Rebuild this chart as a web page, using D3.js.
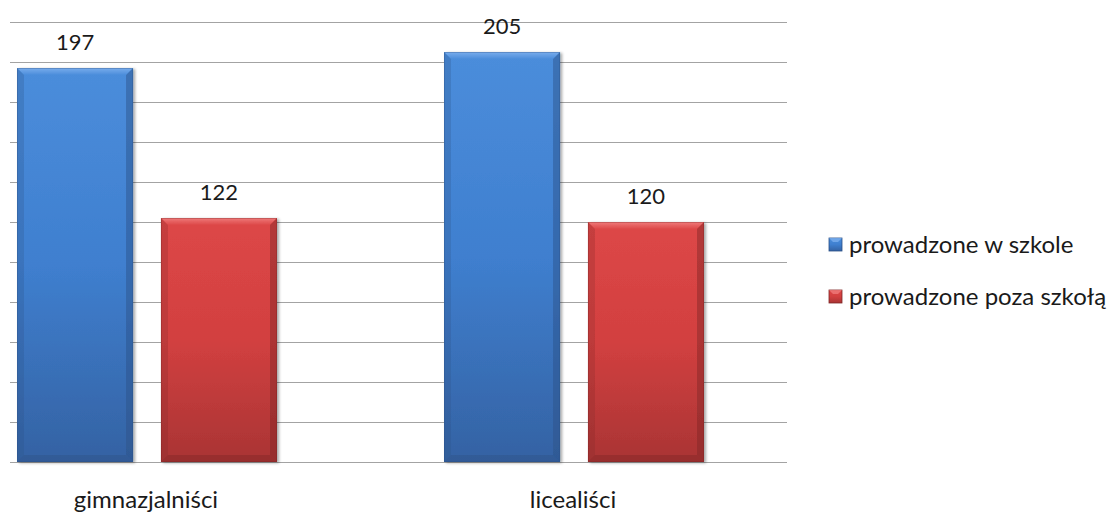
<!DOCTYPE html>
<html><head><meta charset="utf-8">
<script src="https://cdn.jsdelivr.net/npm/d3@7"></script>
<style>body{margin:0;background:#fff}svg{display:block}</style>
</head><body>
<svg id="c" width="1108" height="514"></svg>
<script>
const categories = ["gimnazjalniści", "licealiści"];
const seriesNames = ["prowadzone w szkole", "prowadzone poza szkołą"];
const inSchool = [197, 205];
const outSchool = [122, 120];
const yTicks = [0, 20, 40, 60, 80, 100, 120, 140, 160, 180, 200, 220];

const seriesValues = [inSchool, outSchool];
const colors = [
  {top:"#4b8ddb", mid:"#3f7fcf", bot:"#3462a3", light:"#79adec", dark:"#2a4f85"},
  {top:"#dd4747", mid:"#d24040", bot:"#a93434", light:"#ef7b7b", dark:"#7e2626"}
];
const font = "Lato, 'Open Sans', sans-serif";
const svg = d3.select("#c");
const gridLeft = 10, right = 787, baseY = 462, topY = 22;

const y = d3.scaleLinear().domain([0, 220]).range([baseY, topY]);
const x0 = d3.scaleBand().domain(categories).range([-67.5, 786.5]).paddingInner(0).paddingOuter(0);
const x1 = d3.scaleBand().domain(seriesNames).range([84.5, 344.5]).paddingInner(0.194);

const defs = svg.append("defs");
colors.forEach((c,i)=>{
  const g = defs.append("linearGradient").attr("id","g"+i).attr("x1",0).attr("y1",0).attr("x2",0).attr("y2",1);
  g.append("stop").attr("offset","0%").attr("stop-color",c.top);
  g.append("stop").attr("offset","50%").attr("stop-color",c.mid);
  g.append("stop").attr("offset","100%").attr("stop-color",c.bot);
  const t = defs.append("linearGradient").attr("id","t"+i).attr("x1",0).attr("y1",0).attr("x2",0).attr("y2",1);
  t.append("stop").attr("offset","0%").attr("stop-color",c.light);
  t.append("stop").attr("offset","100%").attr("stop-color",c.top);
});
const f = defs.append("filter").attr("id","sh").attr("x","-10%").attr("y","-10%").attr("width","130%").attr("height","130%");
f.append("feGaussianBlur").attr("in","SourceAlpha").attr("stdDeviation",1.5);
f.append("feOffset").attr("dx",2).attr("dy",1).attr("result","b");
f.append("feComponentTransfer").append("feFuncA").attr("type","linear").attr("slope",0.35);
const fm = f.append("feMerge"); fm.append("feMergeNode"); fm.append("feMergeNode").attr("in","SourceGraphic");

// gridlines
const yAxis = d3.axisLeft(y).tickValues(yTicks).tickSize(-(right-gridLeft)).tickFormat("");
const ga = svg.append("g").attr("transform",`translate(${gridLeft},0)`).call(yAxis);
ga.select(".domain").remove();
ga.selectAll("line").attr("stroke","#a3a3a3").attr("stroke-width",1.3).attr("shape-rendering","crispEdges");

// bars
const groups = svg.append("g").selectAll("g").data(categories).join("g")
  .attr("transform", d => `translate(${x0(d)},0)`);
groups.each(function(cat, ci){
  const g = d3.select(this);
  seriesNames.forEach((s, si)=>{
    const v = seriesValues[si][ci];
    const bx = x1(s), bw = x1.bandwidth(), by = y(v), bh = baseY - by;
    const c = colors[si];
    const b = g.append("g").attr("filter","url(#sh)");
    b.append("rect").attr("x",bx).attr("y",by).attr("width",bw).attr("height",bh).attr("fill",`url(#g${si})`);
    const e = 7;
    b.append("path").attr("d",`M${bx},${by}L${bx+bw},${by}L${bx+bw-e},${by+e}L${bx+e},${by+e}Z`).attr("fill",`url(#t${si})`);
    b.append("path").attr("d",`M${bx},${by}L${bx+e},${by+e}L${bx+e},${by+bh-e}L${bx},${by+bh}Z`).attr("fill",c.dark).attr("opacity",0.25);
    b.append("path").attr("d",`M${bx+bw},${by}L${bx+bw-e},${by+e}L${bx+bw-e},${by+bh-e}L${bx+bw},${by+bh}Z`).attr("fill",c.dark).attr("opacity",0.45);
    b.append("path").attr("d",`M${bx},${by+bh}L${bx+e},${by+bh-e}L${bx+bw-e},${by+bh-e}L${bx+bw},${by+bh}Z`).attr("fill",c.dark).attr("opacity",0.4);
    b.append("rect").attr("x",bx+0.5).attr("y",by+0.5).attr("width",bw-1).attr("height",bh-1).attr("fill","none").attr("stroke",c.dark).attr("stroke-opacity",0.35);
    g.append("text").attr("x",bx+bw/2).attr("y",by-18).attr("text-anchor","middle")
      .attr("font-family",font).attr("font-size",22).attr("fill","#1a1a1a").text(v);
  });
});

// category labels
svg.append("g").selectAll("text").data(categories).join("text")
  .attr("x", d => x0(d) + x0.bandwidth()/2).attr("y", 508).attr("text-anchor","middle")
  .attr("font-family",font).attr("font-size",24).attr("fill","#1a1a1a").text(d=>d);

// legend
const lg = svg.append("g").selectAll("g").data(seriesNames).join("g")
  .attr("transform",(d,i)=>`translate(829,${245 + i*52})`);
lg.append("rect").attr("x",0).attr("y",-7).attr("width",13).attr("height",13)
  .attr("fill",(d,i)=>`url(#g${i})`).attr("stroke",(d,i)=>colors[i].dark).attr("stroke-width",0.8);
lg.append("path").attr("d","M0,-7L13,-7L9,-3L4,-3Z").attr("fill",(d,i)=>colors[i].light).attr("opacity",0.8);
lg.append("text").attr("x",20).attr("y",8).attr("font-family",font).attr("font-size",24).attr("fill","#1a1a1a").text(d=>d);
</script>
</body></html>
